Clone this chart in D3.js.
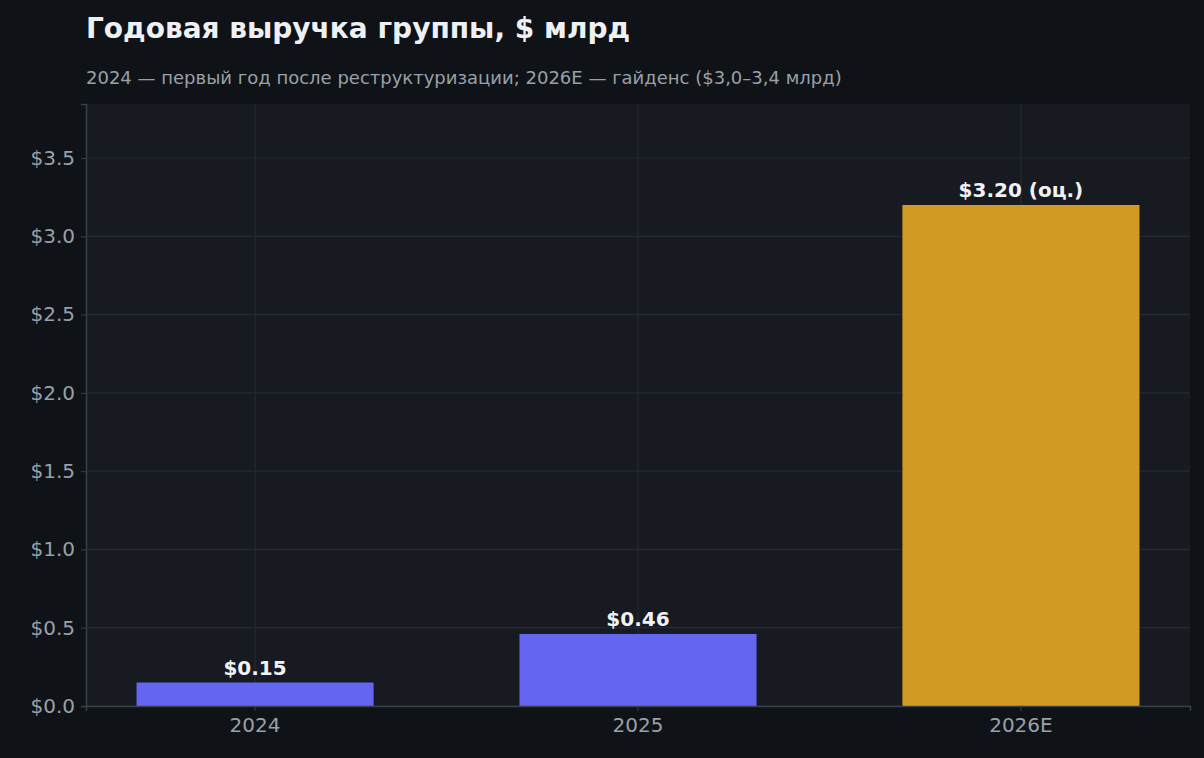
<!DOCTYPE html>
<html><head><meta charset="utf-8">
<script src="https://cdn.jsdelivr.net/npm/d3@7/dist/d3.min.js"></script>
<style>body{margin:0;background:#0f1317;}svg{display:block;font-family:"DejaVu Sans",sans-serif;}</style>
</head><body>
<script>
const categories = ["2024","2025","2026E"];
const values = [0.15,0.46,3.20];
const labels = ["$0.15","$0.46","$3.20 (оц.)"];
const colors = ["#6366f1","#6366f1","#d19a23"];
const yTicks = [0,0.5,1,1.5,2,2.5,3,3.5];

const W=1204,H=758, L=86,R=1190,T=104,B=706;
const svg=d3.select("body").append("svg").attr("width",W).attr("height",H);
svg.append("rect").attr("width",W).attr("height",H).attr("fill","#0f1317");
svg.append("rect").attr("x",L).attr("y",T).attr("width",R-L).attr("height",B-T).attr("fill","#171a21");
const x=d3.scaleBand().domain(categories).range([L,R]).paddingInner(0.381).paddingOuter(0.132);
const y=d3.scaleLinear().domain([0,3.845]).range([B,T]);
const grid="#252932";
svg.append("g").selectAll("line").data(yTicks).join("line")
 .attr("x1",L).attr("x2",R).attr("y1",d=>y(d)).attr("y2",d=>y(d)).attr("stroke",grid).attr("stroke-width",1.2);
svg.append("g").selectAll("line").data(categories).join("line")
 .attr("x1",d=>x(d)+x.bandwidth()/2).attr("x2",d=>x(d)+x.bandwidth()/2).attr("y1",T).attr("y2",B).attr("stroke",grid).attr("stroke-width",1.2);
svg.append("g").selectAll("rect").data(values).join("rect")
 .attr("x",(d,i)=>x(categories[i])).attr("width",x.bandwidth())
 .attr("y",d=>y(d)).attr("height",d=>B-y(d)).attr("fill",(d,i)=>colors[i]);
svg.append("g").selectAll("text").data(values).join("text")
 .attr("x",(d,i)=>x(categories[i])+x.bandwidth()/2).attr("y",d=>y(d)-8)
 .attr("text-anchor","middle").attr("fill","#f0f2f5").attr("font-size",20).attr("font-weight","bold")
 .text((d,i)=>labels[i]);
const ya=svg.append("g").attr("transform",`translate(${L},0)`)
 .call(d3.axisLeft(y).tickValues(yTicks).tickSize(5).tickFormat(d=>"$"+d3.format(".1f")(d)));
const xa=svg.append("g").attr("transform",`translate(0,${B})`)
 .call(d3.axisBottom(x).tickSize(5));
[ya,xa].forEach(a=>{a.select(".domain").attr("stroke","#3a3f48").attr("stroke-width",1.5);
 a.selectAll(".tick line").attr("stroke","#3a3f48");
 a.selectAll("text").attr("fill","#9aa0a8").attr("font-size",20).attr("font-family","DejaVu Sans");});
ya.selectAll("text").attr("dx",-3);
xa.selectAll("text").attr("dy","0.9em");
svg.append("text").attr("x",L).attr("y",38).attr("fill","#eef0f3").attr("font-size",28).attr("font-weight","bold").text("Годовая выручка группы, $ млрд");
svg.append("text").attr("x",L).attr("y",84).attr("fill","#9aa0a8").attr("font-size",18).text("2024 — первый год после реструктуризации; 2026E — гайденс ($3,0–3,4 млрд)");
</script>
</body></html>
